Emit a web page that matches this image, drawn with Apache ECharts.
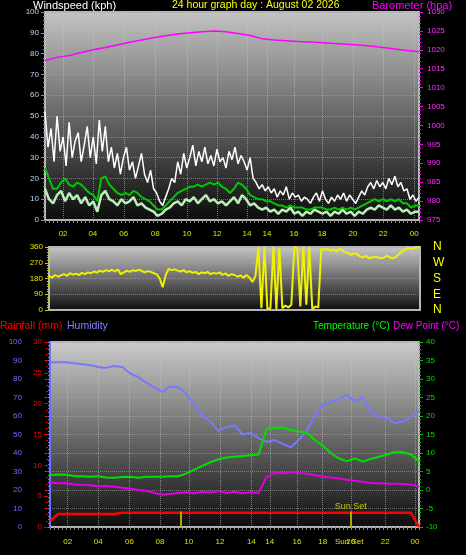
<!DOCTYPE html>
<html><head><meta charset="utf-8">
<script src="https://cdn.jsdelivr.net/npm/echarts@6/dist/echarts.min.js"></script>
<style>html,body{margin:0;padding:0;background:#000;}#c{width:466px;height:555px;}</style>
</head><body><div id="c"></div>
<script>
// ---- data ----
const windGust = [52,35,44,28,50,33,40,26,47,30,38, 42,28,36,45,30,40,27,48,33,45,28,
  35,25,32,22,30,35,24,28,20,26,32, 22,18,24,15,13,9,7,11,15,20,18,
  28,22,32,25,30,36,26,33,28,35,27, 31,26,34,28,30,25,33,29,35,27,31,
  28,24,30,20,18,15,17,14,16,13,15, 11,14,12,16,10,13,11,12,9,11,10,
  8,11,13,9,14,10,8,11,9,12,10, 13,9,12,10,8,11,14,12,16,18,15,
  19,16,18,15,20,17,21,16,18,14,15, 10,12,9,11];
const windAvg = [15,10,8,12,14,9,13,10,12,8, 11,7,9,4,12,14,10,9,7,10,
  8,9,11,7,8,6,5,4,2,3, 5,6,8,9,7,10,9,11,8,10,
  12,9,10,8,9,7,9,11,8,12, 10,7,8,6,5,6,4,5,3,5,
  4,6,3,4,2,4,3,5,4,3, 4,2,4,3,5,3,4,2,4,3,
  5,6,5,7,6,5,7,5,6,4, 5,3,4,4];
const windSmooth = [25,20,15,15,18,20,17,16,18,17, 15,13,12,9,20,21,17,15,13,12,
  13,12,14,13,11,10,9,7,5,5, 7,9,11,13,14,15,16,16,17,16,
  17,18,17,18,16,15,13,15,18,17, 15,12,11,10,10,9,9,8,7,7,
  6,7,6,6,6,5,5,6,6,6, 5,5,6,5,6,5,6,5,6,7,
  8,9,10,9,10,9,10,9,10,8, 8,6,7,7];
const barometer = [1017.2,1018.0,1018.5,1019.3,1020.0,1020.6,1021.3,1022.0,1022.6,1023.2,
  1023.7,1024.2,1024.5,1024.8,1025.0,1024.8,1024.3,1023.8,1022.9,1022.6,
  1022.4,1022.2,1022.1,1021.9,1021.7,1021.5,1021.3,1021.0,1020.6,1020.2,1019.8,1019.5];
const windDir = [195,185,200,190,198,205,195,210,202,208,200,
  212,205,215,210,220,214,225,218,228,222,230,
  220,232,205,215,225,218,228,222,230,224,215,
  222,218,210,205,180,130,200,235,228,232,225,
  220,228,215,222,212,218,205,215,210,218,205,
  212,208,215,200,210,195,205,200,190,198,185,
  200,185,160,195,
  360,10,360,5,10,360,5,355,10,25,15,30,360,355,20,360,30,360,5,20,15,350,
  345,350,340,345,335,350,340,330,325,315, 325,320,305,300,310,295,300,305,300,295,
  300,310,300,295,305,320,335,345,355,350, 355,358,355];
const humidity = [89,89,89,88.5,88,87.5,86.5,86,87,86.5, 83,81,78,75.5,73,76,75.5,72,66,60,
  57,52,54,55,50,51,48,46,47,45, 43,47,52,60,66,67.5,69,71.5,68,70, 62,59.5,59,56,57,59,63];
const temperature = [4.0,4.2,4.1,3.8,3.7,3.6,3.7,3.4,3.3,3.5, 3.6,3.3,3.6,3.6,3.6,3.7,3.7,4.5,5.5,6.5,
  7.5,8.3,8.8,9.0,9.2,9.4,9.6,16.5,16.8,16.9, 16.2,15.8,15.6,13.5,12.0,10.0,8.5,7.8,8.5,7.7,
  8.4,9.0,9.6,10.3,10.2,9.6,7.7];
const dewPoint = [2.0,1.8,1.9,1.5,1.4,1.3,1.0,1.1,0.9,0.6, 0.4,0.0,-0.2,-0.8,-1.3,-1.0,-0.8,-0.6,-0.9,-0.5,
  -0.7,-0.3,-0.8,-0.5,-0.9,-0.6,-0.8,3.5,4.7,4.5, 4.8,4.6,4.4,4.0,3.6,3.4,3.1,2.8,2.5,2.2,
  1.9,1.8,1.7,1.7,1.6,1.4,0.9];
const rainfall = [1.0,2.1,2.1,2.1,2.1,2.1,2.1,2.1,2.1,2.3, 2.3,2.3,2.3,2.3,2.3,2.3,2.3,2.3,2.3,2.3,
  2.3,2.3,2.3,2.3,2.3,2.3,2.3,2.3,2.3,2.3, 2.3,2.3,2.3,2.3,2.3,2.3,2.3,2.3,2.3,2.3,
  2.3,2.3,2.3,2.3,2.3,2.3,0];
// x tick labels (positions in sample units)
const topTickIdx = [4.5,11.9,19.6,27.4,35.3,42.8,50.2,55.2,61.9,68.9,76.6,84.1,91.8];
const topTickLabels = ['02','04','06','08','10','12','14','14','16','18','20','22','00'];
const botTickIdx = [2.2,6.0,9.9,13.7,17.3,21.2,25.1,27.4,30.8,34.0,37.3,37.5,41.8,45.5];
const botTickLabels = ['02','04','06','08','10','12','14','14','16','18','Sun Set','20','22','00'];
const sunLineIdx = [16.3, 37.5];
const sunLineLabels = ['', 'Sun Set'];
const dirNames = ['N','E','S','W','N'];
const dirValues = [0,90,180,270,360];

// ---- chart ----
const chart = echarts.init(document.getElementById('c'));
const F = '"Liberation Sans", Arial, sans-serif';
const bg = (a, b) => new echarts.graphic.LinearGradient(0,0,0,1,[{offset:0,color:a},{offset:1,color:b}]);
const pts = (arr, maxX) => arr.map((v,i) => [i*maxX/(arr.length-1), v]);
const lbl = (idx, labels) => v => { const k = idx.findIndex(t => Math.abs(t-v) < 1e-6); return k >= 0 ? labels[k] : ''; };
const vGrid = idx => ({ silent:true, symbol:'none', z:1, animation:false, label:{show:false},
  lineStyle:{type:'dotted', color:'rgba(200,200,200,0.55)', width:1}, data: idx.map(v => ({xAxis:v})) });
const dotted = c => ({show:true, lineStyle:{type:'dotted', color:c, width:1}});
const plain = v => String(v);
const botGridIdx = botTickIdx.filter((v,i) => botTickLabels[i] !== 'Sun Set');

const option = {
  backgroundColor:'#000',
  animation:false,
  textStyle:{fontFamily:F},
  title:[
    {text:'Windspeed (kph)', left:33, top:0, padding:0, textStyle:{color:'#fff', fontSize:11, fontWeight:'normal', fontFamily:F}},
    {text:'24 hour graph day : August 02 2026', left:172, top:0, padding:0, textStyle:{color:'#ffff00', fontSize:10.5, fontWeight:'normal', fontFamily:F}},
    {text:'Barometer (hpa)', left:372, top:0, padding:0, textStyle:{color:'#ff00ff', fontSize:11, fontWeight:'normal', fontFamily:F}},
    {text:'Rainfall (mm)', left:0, top:321, padding:0, textStyle:{color:'#ff0000', fontSize:10.5, fontWeight:'normal', fontFamily:F}},
    {text:'Humidity', left:67, top:321, padding:0, textStyle:{color:'#8080ff', fontSize:10.5, fontWeight:'normal', fontFamily:F}},
    {text:'Temperature (°C)', left:313, top:321, padding:0, textStyle:{color:'#00ff00', fontSize:10, fontWeight:'normal', fontFamily:F}},
    {text:'Dew Point (°C)', left:393, top:321, padding:0, textStyle:{color:'#ff00ff', fontSize:10, fontWeight:'normal', fontFamily:F}}
  ],
  grid:[
    {left:45, top:12, width:374, height:208, show:true, backgroundColor:bg('#c4c4c4','#0a0a0a'), borderColor:'#b8b8b8', borderWidth:2},
    {left:49, top:247, width:371, height:63, show:true, backgroundColor:bg('#c8c8c8','#0c0c0c'), borderColor:'#b8b8b8', borderWidth:2},
    {left:50, top:342, width:369, height:185, show:true, backgroundColor:bg('#cccccc','#0c0c0c'), borderColor:'#b8b8b8', borderWidth:2}
  ],
  xAxis:[
    {gridIndex:0, type:'value', min:0, max:93, interval:1, axisLine:{show:false}, splitLine:{show:false},
     axisTick:{show:true, length:3, lineStyle:{color:'#8a8a8a'}},
     axisLabel:{customValues:topTickIdx, formatter:lbl(topTickIdx, topTickLabels), color:'#e0e000', fontSize:8, margin:10}},
    {gridIndex:1, type:'value', min:0, max:93, axisLine:{show:false}, axisTick:{show:false}, axisLabel:{show:false}, splitLine:{show:false}},
    {gridIndex:2, type:'value', min:0, max:46, interval:0.5, axisLine:{show:false}, splitLine:{show:false},
     axisTick:{show:true, length:3, lineStyle:{color:'#8a8a8a'}},
     axisLabel:{customValues:botTickIdx, formatter:lbl(botTickIdx, botTickLabels), color:'#e0e000', fontSize:8, margin:11}}
  ],
  yAxis:[
    {gridIndex:0, type:'value', min:0, max:100, interval:10, position:'left',
     axisLine:{show:false}, axisTick:{show:true, length:4, lineStyle:{color:'#909090'}},
     minorTick:{show:true, splitNumber:5, length:2, lineStyle:{color:'#909090'}},
     axisLabel:{color:'#b8d8ff', fontSize:8, margin:6}, splitLine:dotted('rgba(170,170,170,0.6)')},
    {gridIndex:0, type:'value', min:975, max:1030, interval:5, position:'right',
     axisLine:{show:false}, axisTick:{show:true, length:4, lineStyle:{color:'#ff00ff'}},
     minorTick:{show:true, splitNumber:5, length:2, lineStyle:{color:'#ff00ff'}},
     axisLabel:{color:'#ff30ff', fontSize:8, margin:8, formatter:plain}, splitLine:{show:false}},
    {gridIndex:1, type:'value', min:0, max:360, interval:90, position:'left',
     axisLine:{show:false}, axisTick:{show:true, length:4, lineStyle:{color:'#c8c800'}},
     minorTick:{show:true, splitNumber:6, length:2, lineStyle:{color:'#c8c800'}},
     axisLabel:{color:'#e0e000', fontSize:8, margin:6}, splitLine:dotted('rgba(170,170,170,0.6)')},
    {gridIndex:1, type:'value', min:0, max:360, interval:90, position:'right',
     axisLine:{show:false}, axisTick:{show:false}, splitLine:{show:false},
     axisLabel:{color:'#ffff00', fontSize:12, margin:13, formatter: v => dirNames[dirValues.indexOf(v)] || ''}},
    {gridIndex:2, type:'value', min:0, max:100, interval:10, position:'left', offset:20,
     axisLine:{show:true, lineStyle:{color:'#6f6fff', width:2}},
     axisTick:{show:true, length:5, lineStyle:{color:'#6f6fff'}},
     minorTick:{show:true, splitNumber:5, length:2, lineStyle:{color:'#6f6fff'}},
     axisLabel:{color:'#7070ff', fontSize:8, margin:8}, splitLine:{show:false}},
    {gridIndex:2, type:'value', min:0, max:30, interval:5, position:'left', offset:2,
     axisLine:{show:false}, axisTick:{show:true, length:4, lineStyle:{color:'#e00000'}},
     minorTick:{show:true, splitNumber:5, length:2, lineStyle:{color:'#e00000'}},
     axisLabel:{color:'#ff0000', fontSize:8, margin:6}, splitLine:{show:false}},
    {gridIndex:2, type:'value', min:-10, max:40, interval:5, position:'right',
     axisLine:{show:false}, axisTick:{show:true, length:4, lineStyle:{color:'#00c000'}},
     minorTick:{show:true, splitNumber:5, length:2, lineStyle:{color:'#00c000'}},
     axisLabel:{color:'#00e000', fontSize:8, margin:7}, splitLine:dotted('rgba(170,170,170,0.6)')}
  ],
  series:[
    {type:'line', xAxisIndex:0, yAxisIndex:0, data:pts(windGust,93), showSymbol:false, lineStyle:{color:'#ffffff', width:1.5}, markLine:vGrid(topTickIdx)},
    {type:'line', xAxisIndex:0, yAxisIndex:0, data:pts(windAvg,93), showSymbol:false, lineStyle:{color:'#b8f0b8', width:2.5}},
    {type:'line', xAxisIndex:0, yAxisIndex:0, data:pts(windSmooth,93), showSymbol:false, lineStyle:{color:'#00c800', width:2}},
    {type:'line', xAxisIndex:0, yAxisIndex:1, data:pts(barometer,93), showSymbol:false, lineStyle:{color:'#ff00ff', width:1.5}},
    {type:'line', xAxisIndex:1, yAxisIndex:2, data:pts(windDir,93), showSymbol:false, lineStyle:{color:'#f0f000', width:2}},
    {type:'line', xAxisIndex:2, yAxisIndex:4, data:pts(humidity,46), showSymbol:false, lineStyle:{color:'#7878ff', width:2}, markLine:vGrid(botGridIdx)},
    {type:'line', xAxisIndex:2, yAxisIndex:6, data:pts(temperature,46), showSymbol:false, lineStyle:{color:'#00e000', width:2}},
    {type:'line', xAxisIndex:2, yAxisIndex:6, data:pts(dewPoint,46), showSymbol:false, lineStyle:{color:'#e000e0', width:2}},
    {type:'line', xAxisIndex:2, yAxisIndex:5, data:pts(rainfall,46), showSymbol:false, lineStyle:{color:'#ff0000', width:2.5},
     markLine:{silent:true, symbol:'none', animation:false, lineStyle:{type:'solid', color:'#a8a800', width:2},
       data: sunLineIdx.map((x,j) => [
         {coord:[x,0], label:{show: !!sunLineLabels[j], formatter: sunLineLabels[j], position:'end', color:'#c8c800', fontSize:9, distance:1}},
         {coord:[x,2.5]}])}}
  ]
};
chart.setOption(option);
</script></body></html>
